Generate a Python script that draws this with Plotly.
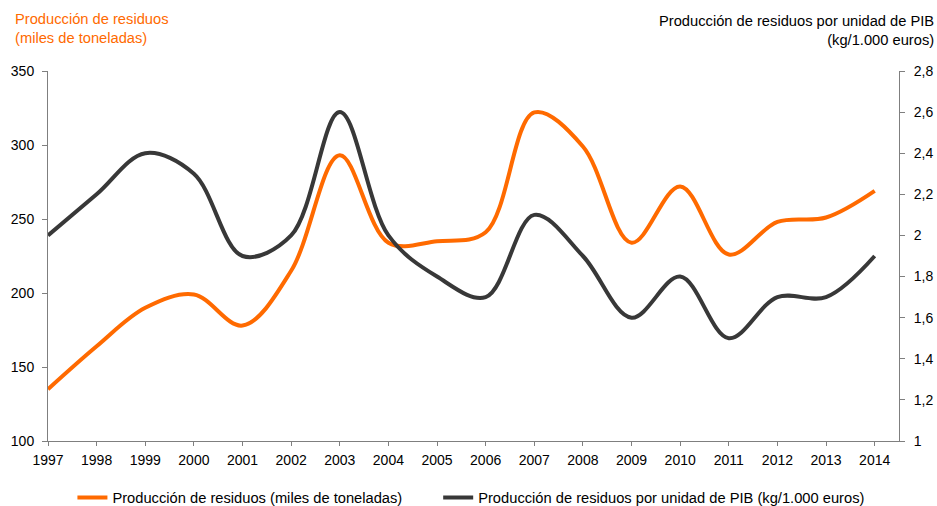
import plotly.graph_objects as go

years = [str(y) for y in range(1997, 2015)]
residuos = [135, 164, 190, 199, 178, 215, 293, 234, 235, 241, 322, 299, 234, 272, 226, 248, 251, 269]
residuos_pib = [2.0, 2.2, 2.4, 2.3, 1.9, 2.0, 2.6, 2.0, 1.8, 1.7, 2.1, 1.9, 1.6, 1.8, 1.5, 1.7, 1.7, 1.9]

left_ticks = [100, 150, 200, 250, 300, 350]
right_ticks = [1, 1.2, 1.4, 1.6, 1.8, 2, 2.2, 2.4, 2.6, 2.8]
right_labels = ["1", "1,2", "1,4", "1,6", "1,8", "2", "2,2", "2,4", "2,6", "2,8"]

ORANGE = "#FF6A00"
DARK = "#383838"
FONT = "Liberation Sans, Arial, sans-serif"

x_idx = list(range(len(years)))

fig = go.Figure()
fig.add_trace(go.Scatter(
    x=x_idx, y=residuos, mode="lines", name="Producción de residuos (miles de toneladas)",
    line=dict(color=ORANGE, width=4, shape="spline", smoothing=1.0), yaxis="y", legend="legend"))
fig.add_trace(go.Scatter(
    x=x_idx, y=residuos_pib, mode="lines", name="Producción de residuos por unidad de PIB (kg/1.000 euros)",
    line=dict(color=DARK, width=4, shape="spline", smoothing=1.0), yaxis="y2", legend="legend2"))

axis_common = dict(showgrid=False, zeroline=False, showline=True, linecolor="#7f7f7f", linewidth=1,
                   ticks="outside", tickcolor="#7f7f7f", automargin=False,
                   tickfont=dict(family=FONT, size=14, color="#000000"))

legend_common = dict(orientation="h", xanchor="left", y=-0.154, yanchor="middle",
                     font=dict(family=FONT, size=14.7, color="#000000"),
                     itemwidth=30, bgcolor="rgba(0,0,0,0)")

fig.update_layout(
    width=937, height=506,
    margin=dict(l=48, r=38, t=71, b=65, autoexpand=False),
    paper_bgcolor="white", plot_bgcolor="white",
    font=dict(family=FONT, size=14, color="#000000"),
    xaxis=dict(**axis_common, range=[0, 17.5], tickmode="array", tickvals=x_idx, ticktext=years,
               ticklen=4, ticklabelstandoff=2),
    yaxis=dict(**axis_common, range=[100, 350], tickmode="array", tickvals=left_ticks, ticklen=5,
               ticklabelstandoff=5),
    yaxis2=dict(**axis_common, range=[1, 2.8], tickmode="array", tickvals=right_ticks,
                ticktext=right_labels, overlaying="y", side="right", ticklen=5, ticklabelstandoff=6),
    showlegend=True,
    legend=dict(**legend_common, x=0.0287),
    legend2=dict(**legend_common, x=0.4585),
    annotations=[
        dict(text="Producción de residuos<br>(miles de toneladas)", xref="paper", yref="paper",
             x=-0.0411, y=1.168, xanchor="left", yanchor="top", align="left", showarrow=False,
             font=dict(family=FONT, size=14.7, color=ORANGE)),
        dict(text="Producción de residuos por unidad de PIB<br>(kg/1.000 euros)", xref="paper", yref="paper",
             x=1.0435, y=1.1635, xanchor="right", yanchor="top", align="right", showarrow=False,
             font=dict(family=FONT, size=14.7, color="#000000")),
    ],
)

fig.write_html("out.html", config={"displayModeBar": False},
               post_script="document.body.style.margin='0px';")
